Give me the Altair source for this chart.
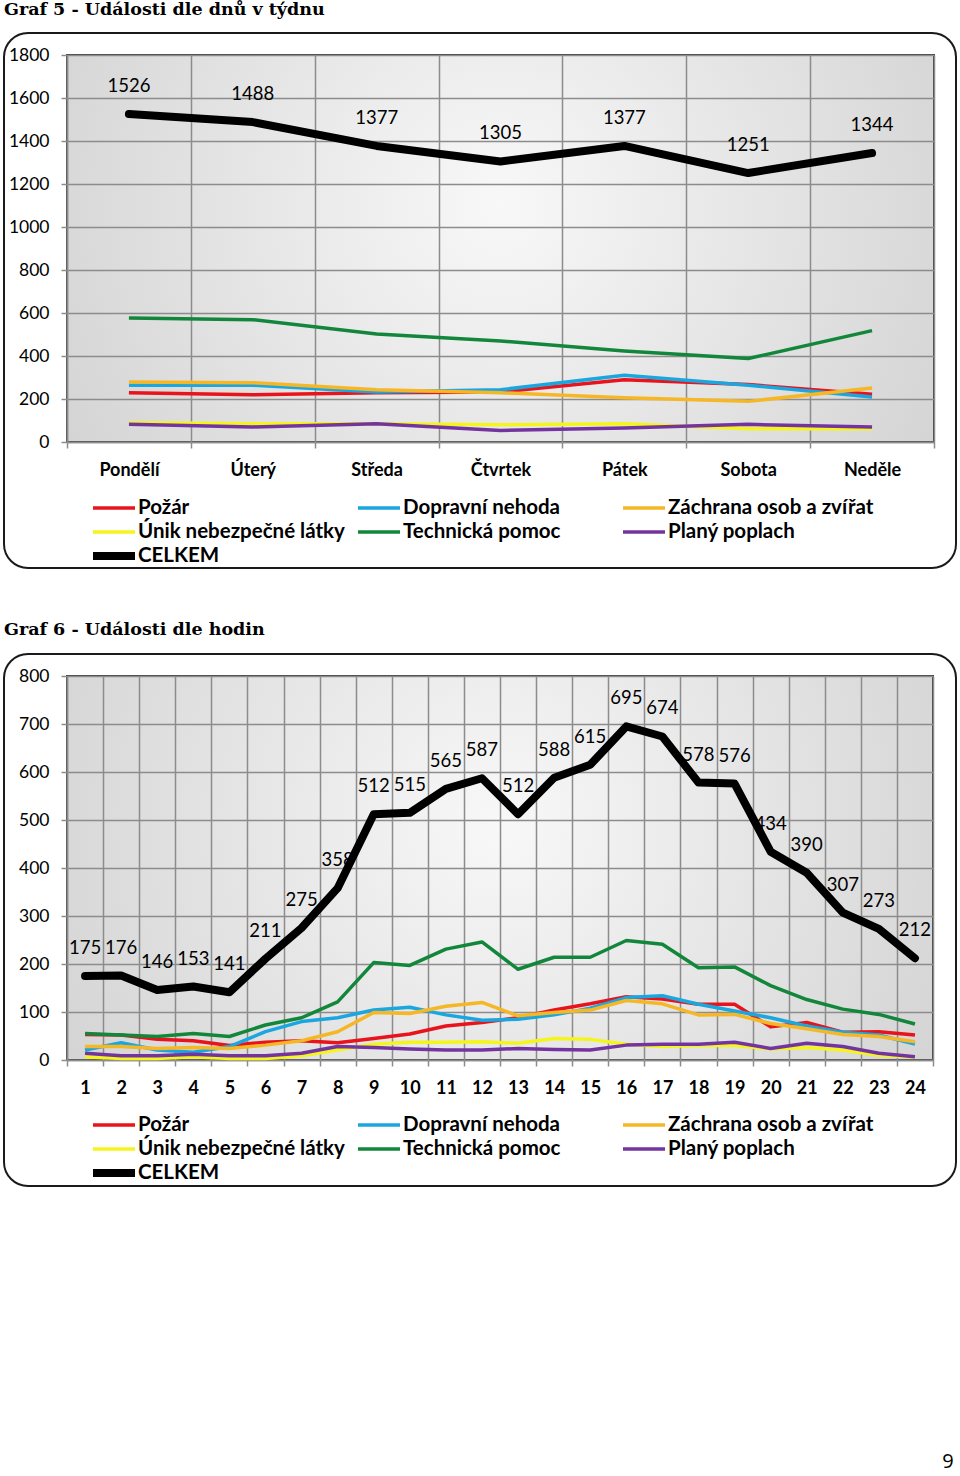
import altair as alt
import pandas as pd

series = ["Požár", "Dopravní nehoda", "Záchrana osob a zvířat",
          "Únik nebezpečné látky", "Technická pomoc", "Planý poplach", "CELKEM"]
colors = ["#e8131b", "#1aa7e0", "#f6b727", "#f5f51e", "#12873b", "#7434a0", "#000000"]

days = ["Pondělí", "Úterý", "Středa", "Čtvrtek", "Pátek", "Sobota", "Neděle"]
day_pozar = [229, 220, 229, 233, 290, 267, 222]
day_doprava = [264, 264, 233, 243, 310, 264, 209]
day_zachrana = [279, 276, 243, 229, 206, 189, 251]
day_unik = [90, 85, 85, 80, 85, 62, 62]
day_technicka = [577, 569, 502, 470, 423, 388, 518]
day_plany = [82, 70, 85, 54, 65, 82, 70]
day_celkem = [1526, 1488, 1377, 1305, 1377, 1251, 1344]

hours = [str(h) for h in range(1, 25)]
h_pozar = [53, 52, 43, 40, 30, 37, 40, 36, 45, 54, 71, 78, 88, 104, 117, 132, 127, 116, 116, 69, 78, 58, 59, 52]
h_doprava = [21, 36, 21, 16, 28, 59, 80, 88, 104, 110, 94, 83, 85, 94, 108, 130, 134, 116, 102, 88, 71, 58, 52, 33]
h_zachrana = [28, 28, 24, 26, 24, 31, 40, 59, 99, 97, 112, 120, 92, 99, 104, 124, 117, 94, 95, 76, 65, 53, 49, 38]
h_unik = [7, 3, 3, 7, 3, 3, 9, 21, 33, 37, 37, 38, 35, 45, 43, 33, 28, 30, 30, 23, 26, 21, 10, 6]
h_technicka = [55, 52, 49, 55, 49, 73, 88, 121, 203, 197, 231, 246, 189, 214, 214, 249, 241, 192, 194, 155, 126, 106, 95, 75]
h_plany = [14, 9, 9, 12, 9, 9, 14, 28, 26, 23, 21, 21, 24, 22, 21, 31, 33, 33, 37, 24, 35, 28, 14, 7]
h_celkem = [175, 176, 146, 153, 141, 211, 275, 358, 512, 515, 565, 587, 512, 588, 615, 695, 674, 578, 576, 434, 390, 307, 273, 212]


def long_df(cats, cols):
    rows = []
    for s, vals in zip(series, cols):
        for i, (c, v) in enumerate(zip(cats, vals)):
            rows.append({"cat": c, "idx": i, "series": s, "value": v})
    return pd.DataFrame(rows)


day_df = long_df(days, [day_pozar, day_doprava, day_zachrana, day_unik,
                        day_technicka, day_plany, day_celkem])
hour_df = long_df(hours, [h_pozar, h_doprava, h_zachrana, h_unik,
                          h_technicka, h_plany, h_celkem])

# legend entries laid out in a 3-column grid (column/row index from list order)
legend_df = pd.DataFrame({"series": series,
                          "col": [i % 3 for i in range(len(series))],
                          "row": [i // 3 for i in range(len(series))]})

one = pd.DataFrame({"k": [0]})

grad = {"expr": "{gradient:'radial',x1:0.5,y1:0.45,r1:0,x2:0.5,y2:0.45,r2:0.75,"
                "stops:[{offset:0,color:'#f8f8f8'},{offset:1,color:'#c9c9c9'}]}"}

color = alt.Color("series:N", scale=alt.Scale(domain=series, range=colors), legend=None)


def panel(df, cats, ymax, ystep, W, H, title, fx, fy, fw, fh, tx, ty, lx, ly, extra=None):
    xscale = alt.Scale(paddingInner=0, paddingOuter=0)
    xaxis = alt.Axis(title=None, labelAngle=0, tickBand="extent", grid=True,
                     labelFontWeight="bold", labelFontSize=18, labelPadding=13)
    yscale = alt.Scale(domain=[0, ymax], nice=False)
    yaxis = alt.Axis(title=None, values=list(range(0, ymax + 1, ystep)),
                     format="d", labelFontSize=17.5, labelPadding=12)
    base = alt.Chart(df)
    lines = base.transform_filter(alt.datum.series != "CELKEM").mark_line(
        strokeJoin="round", strokeWidth=3.5).encode(
        x=alt.X("cat:N", sort=cats, scale=xscale, axis=xaxis),
        y=alt.Y("value:Q", scale=yscale, axis=yaxis),
        color=color, order=alt.Order("idx:Q"))
    xs = alt.X("cat:N", sort=cats, scale=xscale, axis=None)
    ys = alt.Y("value:Q", scale=yscale, axis=None)
    total = base.transform_filter(alt.datum.series == "CELKEM").mark_line(
        strokeJoin="round", strokeCap="round", strokeWidth=8).encode(
        x=xs, y=ys, color=color, order=alt.Order("idx:Q"))
    labels = base.transform_filter(alt.datum.series == "CELKEM").mark_text(
        dy=-28, font="Lato", fontSize=18.5, color="black").encode(
        x=xs, y=ys, text="value:Q")

    lgx = alt.X("col:Q", scale=alt.Scale(domain=[0, 1], range=[lx, lx + 265]), axis=None)
    lgx2 = alt.X2("col")
    lgy = alt.Y("row:Q", scale=alt.Scale(domain=[0, 1], range=[ly, ly + 24]), axis=None)
    lbase = alt.Chart(legend_df)
    leg_sym = lbase.transform_filter(alt.datum.series != "CELKEM").mark_rule(
        strokeWidth=3.5, x2Offset=42).encode(x=lgx, x2=lgx2, y=lgy, color=color)
    leg_sym_total = lbase.transform_filter(alt.datum.series == "CELKEM").mark_rule(
        strokeWidth=8, x2Offset=42).encode(x=lgx, x2=lgx2, y=lgy, color=color)
    leg_txt = lbase.mark_text(align="left", baseline="middle", dx=45, font="Lato",
                              fontSize=20.5, fontWeight="bold", color="black").encode(
        x=lgx, y=lgy, text="series:N")

    frame = alt.Chart(one).mark_rect(fillOpacity=0, stroke="#1a1a1a", strokeWidth=2,
                                     cornerRadius=24).encode(
        x=alt.value(fx), x2=alt.value(fx + fw), y=alt.value(fy), y2=alt.value(fy + fh))
    ttl = alt.Chart(one).mark_text(align="left", baseline="middle", font="DejaVu Serif",
                                   fontWeight="bold", fontSize=17.5, color="black",
                                   text=title).encode(x=alt.value(tx), y=alt.value(ty))
    layers = [frame, ttl, lines, total, labels, leg_sym, leg_sym_total, leg_txt]
    if extra is not None:
        layers.append(extra)
    return alt.layer(*layers).resolve_scale(x="independent", y="independent").properties(
        width=W, height=H,
        view=alt.ViewBackground(fill=grad, stroke="#404040", strokeWidth=2))


top = panel(day_df, days, 1800, 200, 867, 387, "Graf 5 - Události dle dnů v týdnu",
            -63, -22, 952, 535, -63, -45, 26, 453)

page_no = alt.Chart(one).mark_text(font="Open Sans", fontSize=20, color="black",
                                   text="9").encode(x=alt.value(881), y=alt.value(786))
bottom = panel(hour_df, hours, 800, 100, 866, 384, "Graf 6 - Události dle hodin",
               -63, -22, 952, 532, -63, -46, 26, 449, extra=page_no)

chart = alt.vconcat(top, bottom, spacing=50).resolve_scale(
    color="independent"
).properties(
    padding={"left": 2, "top": 0, "right": 0, "bottom": 0}, background="white"
).configure_axis(
    labelFont="Lato", labelColor="black", gridColor="#8c8c8c", gridWidth=1.5,
    domainColor="#8c8c8c", domainWidth=1.5, tickColor="#8c8c8c", tickWidth=1.5, tickSize=6
)

chart.save("out.html", embed_options={"renderer": "svg", "actions": False})
